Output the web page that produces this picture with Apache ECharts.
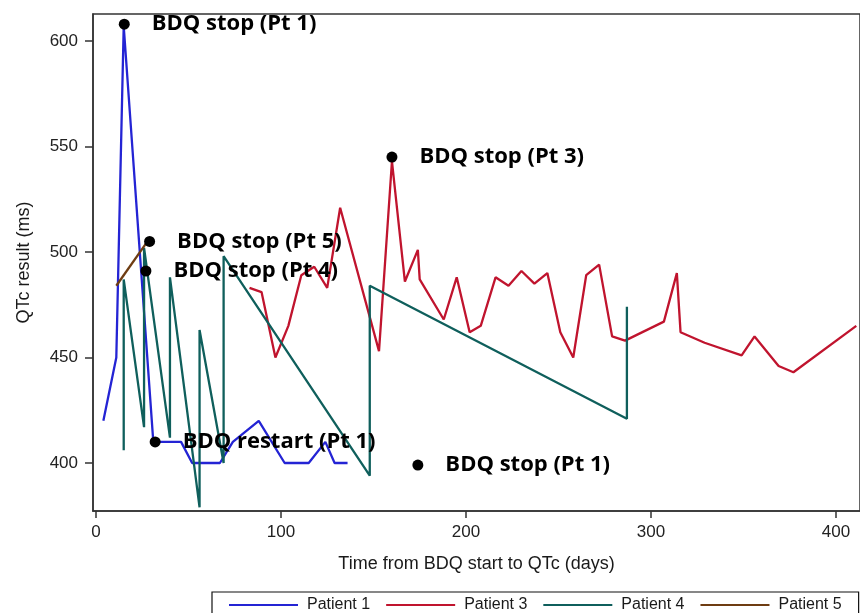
<!DOCTYPE html>
<html>
<head>
<meta charset="utf-8">
<script src="https://cdn.jsdelivr.net/npm/echarts@6/dist/echarts.min.js"></script>
<style>
html,body{margin:0;padding:0;background:#fff;}
#chart{width:860px;height:613px;}
</style>
</head>
<body>
<div id="chart"></div>
<script>
// ---- data ----
const xTicks = [0, 100, 200, 300, 400];
const yTicks = [400, 450, 500, 550, 600];

const patient1Days = [4, 11, 15, 31, 46, 52, 67, 74, 88, 102, 115, 124, 129, 136];
const patient1QTc  = [420, 450, 607, 410, 410, 400, 400, 410, 420, 400, 400, 410, 400, 400];

const patient3Days = [83, 89.5, 97, 104, 111, 118, 125, 132, 153, 160, 167, 174, 175, 188, 195, 202, 208, 216, 223, 230, 237, 244, 251, 258, 265, 272, 279, 286, 307, 314, 316, 329, 349, 356, 369, 377, 411];
const patient3QTc  = [483, 481, 450, 465, 489, 493, 483, 521, 453, 543, 486, 501, 487, 468, 488, 462, 465, 488, 484, 491, 485, 490, 462, 450, 489, 494, 460, 458, 467, 490, 462, 457, 451, 460, 446, 443, 465];

const patient4Days = [15, 15, 26, 26, 40, 40, 56, 56, 69, 69, 148, 148, 287, 287];
const patient4QTc  = [406, 487, 417, 502, 412, 488, 379, 463, 400, 498, 394, 484, 421, 474];

const patient5Days = [11, 27];
const patient5QTc  = [484, 504];

const eventLabels = ["BDQ stop (Pt 1)", "BDQ stop (Pt 5)", "BDQ stop (Pt 4)", "BDQ restart (Pt 1)", "BDQ stop (Pt 3)", "BDQ stop (Pt 1)"];
const eventDays   = [15.3, 29, 27, 32, 160, 174];
const eventQTc    = [608, 505, 491, 410, 545, 399];

const seriesNames = ["Patient 1", "Patient 3", "Patient 4", "Patient 5"];
const seriesColors = ["#2424d4", "#c0142e", "#0f5f5c", "#6e3c12"];

// ---- build ----
function pairs(xs, ys) { return xs.map((x, i) => [x, ys[i]]); }
const lineData = [
  pairs(patient1Days, patient1QTc),
  pairs(patient3Days, patient3QTc),
  pairs(patient4Days, patient4QTc),
  pairs(patient5Days, patient5QTc)
];

const chart = echarts.init(document.getElementById('chart'), null, {renderer: 'canvas'});

const series = lineData.map((d, i) => ({
  name: seriesNames[i],
  type: 'line',
  data: d,
  symbol: 'none',
  lineStyle: {color: seriesColors[i], width: 2.3},
  itemStyle: {color: seriesColors[i]},
  z: 2 + i,
  animation: false
}));

series.push({
  name: 'events',
  type: 'scatter',
  data: eventLabels.map((n, i) => ({name: n, value: [eventDays[i], eventQTc[i]]})),
  symbolSize: 11,
  itemStyle: {color: '#000', opacity: 1},
  label: {
    show: true,
    position: 'right',
    distance: 22,
    formatter: '{b}',
    fontFamily: 'Open Sans',
    fontWeight: 'bold',
    fontSize: 22,
    color: '#000',
    opacity: 1
  },
  emphasis: {disabled: true},
  z: 10,
  animation: false
});

const axisCommon = {
  axisLine: {show: true, onZero: false, lineStyle: {color: '#333', width: 1.5}},
  splitLine: {show: false},
  nameTextStyle: {fontFamily: 'Liberation Sans', fontSize: 18, color: '#1a1a1a'}
};

chart.setOption({
  animation: false,
  backgroundColor: '#fff',
  grid: {left: 93, top: 14, width: 769, height: 497, show: true, borderColor: '#333', borderWidth: 1.5, containLabel: false},
  xAxis: Object.assign({}, axisCommon, {
    type: 'value',
    min: -1.6,
    max: 413,
    name: 'Time from BDQ start to QTc (days)',
    nameLocation: 'middle',
    nameGap: 44,
    axisTick: {show: true, length: 7, lineStyle: {color: '#333', width: 1.5}, customValues: xTicks},
    axisLabel: {customValues: xTicks, fontFamily: 'Liberation Sans', fontSize: 17, color: '#222', margin: 13}
  }),
  yAxis: Object.assign({}, axisCommon, {
    type: 'value',
    min: 377.25,
    max: 612.8,
    name: 'QTc result (ms)',
    nameLocation: 'middle',
    nameGap: 60,
    axisTick: {show: true, length: 8, lineStyle: {color: '#333', width: 1.5}, customValues: yTicks},
    axisLabel: {customValues: yTicks, fontFamily: 'Liberation Sans', fontSize: 17, color: '#222', margin: 15}
  }),
  legend: {
    data: seriesNames,
    left: 212,
    top: 592,
    orient: 'horizontal',
    padding: [5, 17, 8, 16],
    itemWidth: 69,
    itemHeight: 12,
    itemGap: 15,
    borderColor: '#111',
    borderWidth: 1.2,
    textStyle: {fontFamily: 'Liberation Sans', fontSize: 16, color: '#1a1a1a', padding: [0, 0, 0, 4]},
    itemStyle: {opacity: 0}
  },
  series: series
});
</script>
</body>
</html>
